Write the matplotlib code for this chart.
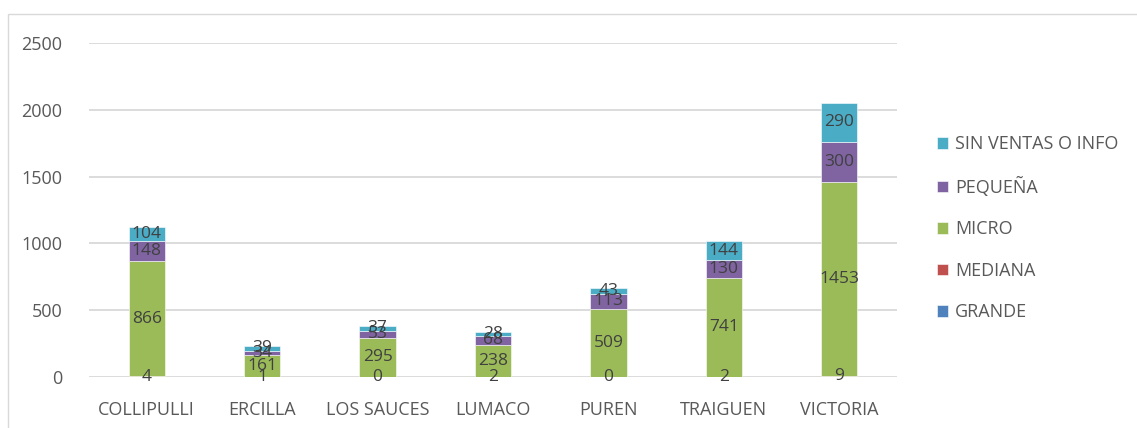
import matplotlib.pyplot as plt
from matplotlib.patches import Rectangle
import numpy as np

plt.rcParams['font.family'] = ['Open Sans', 'DejaVu Sans']

comunas = ['COLLIPULLI', 'ERCILLA', 'LOS SAUCES', 'LUMACO', 'PUREN', 'TRAIGUEN', 'VICTORIA']
grande = [0, 0, 0, 0, 0, 0, 0]
mediana = [4, 1, 0, 2, 0, 2, 9]
micro = [866, 161, 295, 238, 509, 741, 1453]
pequena = [148, 34, 53, 68, 113, 130, 300]
sin_ventas = [104, 39, 37, 28, 43, 144, 290]

series = [
    ('GRANDE', grande, '#4F81BD'),
    ('MEDIANA', mediana, '#C0504D'),
    ('MICRO', micro, '#9BBB59'),
    ('PEQUEÑA', pequena, '#8064A2'),
    ('SIN VENTAS O INFO', sin_ventas, '#4BACC6'),
]

texto = '#595959'

fig = plt.figure(figsize=(11.37, 4.28), dpi=100)
ax = fig.add_axes([89 / 1137, 1 - 377 / 428, (897 - 89) / 1137, (377 - 43) / 428])

x = np.arange(len(comunas))
base = np.zeros(len(comunas))
handles = []
for nombre, vals, color in series:
    vals = np.array(vals, dtype=float)
    b = ax.bar(x, vals, 0.315, bottom=base, color=color, label=nombre,
               edgecolor='white', linewidth=0.4, zorder=3)
    handles.append(b)
    if nombre != 'GRANDE':
        for xi, v, b0 in zip(x, vals, base):
            ax.text(xi, b0 + v / 2, f'{int(v)}', ha='center', va='center',
                    fontsize=12.5, color='#404040', zorder=4)
    base += vals

ax.set_xlim(-0.5, len(comunas) - 0.5)
ax.set_ylim(0, 2500)
ax.set_yticks(range(0, 2501, 500))
ax.set_xticks(x)
ax.set_xticklabels(comunas)
ax.tick_params(axis='both', length=0, labelsize=13, labelcolor=texto)
ax.tick_params(axis='y', pad=19)
ax.tick_params(axis='x', pad=17)
ax.grid(axis='y', color='#d9d9d9', linewidth=1.3, zorder=0)
for s in ax.spines.values():
    s.set_visible(False)

leg = fig.legend(handles[::-1], [s[0] for s in series][::-1],
                 loc='upper left', bbox_to_anchor=(921 / 1137, 1 - 119 / 428),
                 frameon=False, fontsize=13, labelspacing=1.3,
                 handlelength=0.6, handleheight=0.6, handletextpad=0.4)
for t in leg.get_texts():
    t.set_color(texto)

fig.patches.append(Rectangle((8 / 1137, -0.1), 1.2, 1 - 14 / 428 + 0.1,
                             transform=fig.transFigure, fill=False,
                             edgecolor='#d9d9d9', linewidth=1))

fig.savefig('out.png', dpi=100)
